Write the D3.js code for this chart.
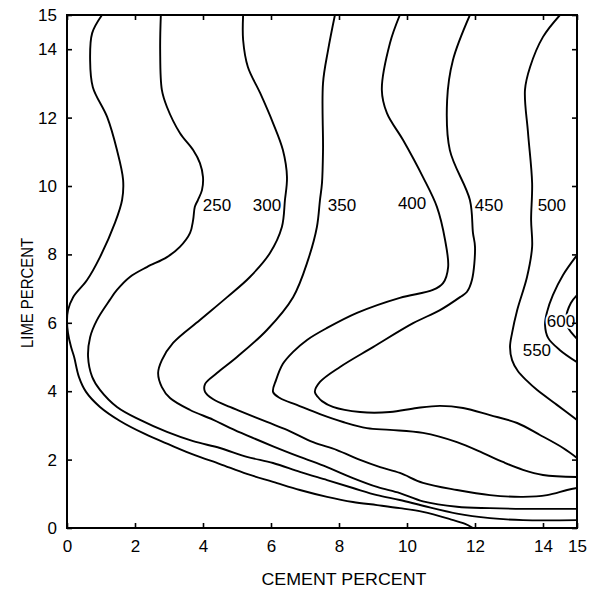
<!DOCTYPE html>
<html>
<head>
<meta charset="utf-8">
<script src="https://cdn.jsdelivr.net/npm/d3@7"></script>
<style>
  html, body { margin: 0; padding: 0; background: #fff; }
  svg { display: block; }
  text { font-family: "Liberation Sans", Arial, Helvetica, sans-serif; fill: #000; }
</style>
</head>
<body>
<svg id="chart" width="589" height="593"></svg>
<script>
// ---- data (cement %, lime %) ----
const xTicks = [0, 2, 4, 6, 8, 10, 12, 14, 15];
const yTicks = [0, 2, 4, 6, 8, 10, 12, 14, 15];
const levels = [200, 250, 300, 350, 400, 450, 500, 550, 600];

const contour200 = [[1.03,15],[0.74,14.47],[0.68,13.68],[0.76,12.89],[1.18,12.02],[1.47,11.05],[1.65,10.18],[1.62,9.59],[1.41,8.92],[0.97,7.92],[0.59,7.25],[0.18,6.75],[0.03,6.37],[0.0,6.05],[0.03,5.70],[0.12,5.29],[0.21,5.00],[0.35,4.42],[0.56,3.98],[0.97,3.54],[1.56,3.13],[2.29,2.75],[3.03,2.43],[3.76,2.13],[4.50,1.87],[5.29,1.58],[6.06,1.35],[6.85,1.11],[7.65,0.91],[8.41,0.76],[9.12,0.67],[9.79,0.58],[10.47,0.47],[11.26,0.26],[11.71,0.12],[11.94,0]];
const contour250 = [[2.76,15],[2.74,13.98],[2.79,12.81],[2.94,12.31],[3.32,11.55],[3.71,11.05],[3.91,10.67],[4.00,10.26],[3.97,9.88],[3.85,9.59],[3.76,9.39],[3.71,9.01],[3.62,8.63],[3.32,8.22],[2.94,7.92],[2.35,7.63],[1.85,7.34],[1.47,6.96],[1.26,6.67],[0.88,6.08],[0.68,5.58],[0.62,5.00],[0.74,4.42],[0.97,4.04],[1.47,3.54],[2.15,3.16],[2.94,2.81],[3.71,2.54],[4.50,2.34],[5.29,2.08],[6.06,1.90],[6.85,1.64],[7.65,1.40],[8.41,1.17],[9.12,0.96],[9.79,0.82],[10.47,0.65],[11.47,0.42],[12.44,0.29],[13.41,0.23],[15,0.23]];
const contour300 = [[5.18,15],[5.18,14.27],[5.32,13.48],[5.68,12.72],[6.06,11.84],[6.35,11.05],[6.47,10.26],[6.41,9.59],[6.32,8.80],[5.97,8.04],[5.38,7.34],[4.71,6.75],[3.91,6.08],[3.12,5.41],[2.79,4.91],[2.68,4.53],[2.79,4.12],[3.03,3.80],[3.62,3.45],[4.29,3.17],[4.79,2.93],[5.29,2.71],[6.06,2.39],[6.85,2.08],[7.65,1.78],[8.41,1.46],[9.12,1.20],[9.79,1.02],[10.47,0.78],[11.47,0.62],[12.44,0.58],[13.41,0.56],[15,0.56]];
const contour350 = [[7.88,15],[7.68,13.98],[7.53,13.01],[7.53,11.05],[7.50,10.09],[7.44,9.59],[7.35,8.80],[7.09,7.84],[6.65,6.75],[5.88,5.79],[5.00,5.00],[4.41,4.53],[4.06,4.21],[4.06,3.98],[4.29,3.77],[4.79,3.54],[5.09,3.42],[5.88,3.10],[6.47,2.87],[7.24,2.51],[7.94,2.28],[8.62,1.99],[9.21,1.78],[9.79,1.61],[10.47,1.32],[11.47,1.11],[12.44,0.96],[13.41,0.91],[14.12,0.96],[14.71,1.11],[15,1.17]];
const contour400 = [[9.79,15],[9.50,14.18],[9.26,12.81],[9.41,12.13],[9.88,11.35],[10.47,10.26],[10.88,9.39],[11.12,8.42],[11.21,7.63],[11.06,7.16],[10.76,6.96],[9.79,6.73],[8.53,6.29],[7.65,5.85],[7.06,5.50],[6.65,5.15],[6.35,4.80],[6.15,4.33],[6.06,3.98],[6.26,3.80],[6.76,3.60],[7.44,3.33],[8.12,3.10],[8.82,2.92],[9.50,2.87],[10.47,2.78],[11.47,2.51],[12.24,2.19],[12.82,1.93],[13.41,1.70],[14.00,1.55],[15,1.49]];
const contour450 = [[11.85,15],[11.35,13.68],[11.18,12.51],[11.26,11.05],[11.85,9.59],[11.94,8.63],[12.00,8.22],[11.91,7.25],[11.76,6.90],[11.56,6.75],[10.97,6.37],[10.18,5.99],[9.00,5.29],[8.03,4.71],[7.44,4.27],[7.29,3.98],[7.38,3.83],[7.50,3.71],[7.82,3.54],[8.62,3.39],[9.50,3.39],[10.29,3.51],[10.97,3.57],[11.65,3.51],[12.44,3.30],[13.24,3.07],[13.91,2.72],[14.59,2.34],[15,2.05]];
const contour500 = [[14.50,15],[14.00,14.36],[13.62,13.48],[13.47,12.81],[13.56,11.55],[13.68,10.09],[13.65,9.01],[13.68,8.22],[13.53,7.34],[13.24,6.37],[13.09,5.70],[13.03,5.29],[13.09,4.91],[13.26,4.59],[13.53,4.30],[13.82,4.04],[14.41,3.60],[15,3.16]];
const contour550 = [[15,7.98],[14.59,7.40],[14.29,6.81],[14.12,6.32],[14.06,5.94],[14.15,5.56],[14.50,5.20],[15,4.85]];
const contour600 = [[15,6.81],[14.82,6.58],[14.68,6.14],[14.74,5.85],[14.85,5.70],[15,5.53]];

const labelText = ["250", "300", "350", "400", "450", "500", "550", "600"];
const labelX = [4.41, 5.88, 8.09, 10.15, 12.41, 14.26, 13.82, 14.53];
const labelY = [9.42, 9.42, 9.42, 9.50, 9.42, 9.42, 5.20, 6.05];

// ---- drawing ----
const svg = d3.select("#chart");
const x = d3.scaleLinear().domain([0, 15]).range([67, 577]);
const y = d3.scaleLinear().domain([0, 15]).range([528, 15]);

const contours = [contour200, contour250, contour300, contour350, contour400,
                  contour450, contour500, contour550, contour600]
  .map((pts, i) => ({ level: levels[i], pts }));

const line = d3.line()
  .x(d => x(d[0]))
  .y(d => y(d[1]))
  .curve(d3.curveCatmullRom.alpha(0.5));

svg.append("clipPath").attr("id", "plotclip")
  .append("rect")
  .attr("x", x(0)).attr("y", y(15))
  .attr("width", x(15) - x(0)).attr("height", y(0) - y(15));

svg.append("g").attr("clip-path", "url(#plotclip)")
  .selectAll("path.contour")
  .data(contours)
  .join("path")
  .attr("class", "contour")
  .attr("d", d => line(d.pts))
  .attr("fill", "none")
  .attr("stroke", "#000")
  .attr("stroke-width", 1.9)
  .attr("stroke-linejoin", "round")
  .attr("stroke-linecap", "round");

// contour labels
svg.append("g")
  .selectAll("text")
  .data(labelText)
  .join("text")
  .attr("x", (d, i) => x(labelX[i]))
  .attr("y", (d, i) => y(labelY[i]))
  .attr("text-anchor", "middle")
  .attr("dominant-baseline", "central")
  .attr("font-size", 17)
  .attr("stroke", (d) => d === "600" ? "#fff" : "none")
  .attr("stroke-width", 4)
  .attr("paint-order", "stroke")
  .text(d => d);

// axes
function styleAxis(g) {
  g.select(".domain").remove();
  g.selectAll(".tick line").attr("stroke", "#000").attr("stroke-width", 1.6);
  g.selectAll(".tick text").attr("font-size", 17).attr("fill", "#000")
    .style("font-family", '"Liberation Sans", Arial, Helvetica, sans-serif');
}

svg.append("g").attr("transform", `translate(0,${y(0)})`)
  .call(d3.axisBottom(x).tickValues(xTicks).tickSize(-5).tickSizeOuter(0).tickPadding(12).tickFormat(d3.format("d")))
  .call(styleAxis);
svg.append("g").attr("transform", `translate(${x(0)},0)`)
  .call(d3.axisLeft(y).tickValues(yTicks).tickSize(-5).tickSizeOuter(0).tickPadding(10).tickFormat(d3.format("d")))
  .call(styleAxis);
svg.append("g").attr("transform", `translate(0,${y(15)})`)
  .call(d3.axisTop(x).tickValues(xTicks).tickSize(-5).tickSizeOuter(0).tickFormat(""))
  .call(styleAxis);
svg.append("g").attr("transform", `translate(${x(15)},0)`)
  .call(d3.axisRight(y).tickValues(yTicks).tickSize(-5).tickSizeOuter(0).tickFormat(""))
  .call(styleAxis);

// frame
svg.append("rect")
  .attr("x", x(0)).attr("y", y(15))
  .attr("width", x(15) - x(0)).attr("height", y(0) - y(15))
  .attr("fill", "none").attr("stroke", "#000").attr("stroke-width", 2);

// axis titles
svg.append("text")
  .attr("x", 344).attr("y", 585)
  .attr("text-anchor", "middle")
  .attr("font-size", 17)
  .attr("textLength", 165).attr("lengthAdjust", "spacingAndGlyphs")
  .text("CEMENT PERCENT");

svg.append("text")
  .attr("transform", "translate(33,293) rotate(-90)")
  .attr("text-anchor", "middle")
  .attr("font-size", 17)
  .attr("textLength", 110).attr("lengthAdjust", "spacingAndGlyphs")
  .text("LIME PERCENT");
</script>
</body>
</html>
